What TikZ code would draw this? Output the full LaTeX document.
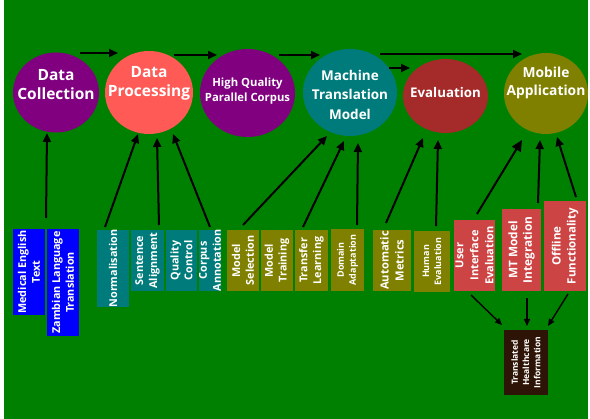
\documentclass[tikz,border=0pt]{standalone}
\usepackage{fontspec}
\setmainfont{Open Sans}
\usetikzlibrary{shapes.geometric,arrows.meta}
\definecolor{bggreen}{HTML}{008000}
\definecolor{cpurple}{HTML}{800080}
\definecolor{csalmon}{HTML}{FF5A55}
\definecolor{cteal}{HTML}{007B7B}
\definecolor{cbrown}{HTML}{A52A2A}
\definecolor{colive}{HTML}{808000}
\definecolor{cblue}{HTML}{0000FF}
\definecolor{cred}{HTML}{CC4444}
\definecolor{cdark}{HTML}{2E1406}
\tikzset{
  oval/.style={ellipse, inner sep=0pt, draw=none},
  otext/.style={text=white, font=\bfseries, align=center, inner sep=0pt},
  vbox/.style={rectangle, rotate=90, inner sep=0pt, text=white, align=center,
    font=\bfseries\fontsize{10.8}{13.8}\selectfont},
  arr/.style={-{Triangle[length=9pt,width=8pt]}, line width=2pt, black},
  sarr/.style={-{Triangle[length=7pt,width=6pt]}, line width=1.4pt, black}
}
\begin{document}
\begin{tikzpicture}[x=1pt,y=-1pt]
\useasboundingbox (0,0) rectangle (590,419);
\fill[white] (0,0) rectangle (590,419);
\fill[bggreen] (4,0) rectangle (588,419);

% ellipses
\node[oval, fill=cpurple, minimum width=86pt, minimum height=80pt] (dc) at (56,92.5) {};
\node[oval, fill=csalmon, minimum width=88pt, minimum height=83pt] (dp) at (149,92.5) {};
\node[oval, fill=cpurple, minimum width=95pt, minimum height=88pt] (hq) at (247.5,93) {};
\node[oval, fill=cteal, minimum width=94pt, minimum height=87pt] (mt) at (350,92.5) {};
\node[oval, fill=cbrown, minimum width=85pt, minimum height=74pt] (ev) at (445.5,96) {};
\node[oval, fill=colive, minimum width=84pt, minimum height=81pt] (ma) at (546,93.5) {};

\node[otext, font=\bfseries\fontsize{15.5}{19}\selectfont] (dct) at (56,85) {Data\\Collection};
\node[otext, font=\bfseries\fontsize{15.5}{19}\selectfont] (dpt) at (149,83.5) {Data\\Processing};
\node[otext, font=\bfseries\fontsize{11.3}{15}\selectfont] (hqt) at (247.5,91) {High Quality\\Parallel Corpus};
\node[otext, font=\bfseries\fontsize{13.5}{19.5}\selectfont] (mtt) at (350,94.5) {Machine\\Translation\\Model};
\node[otext, font=\bfseries\fontsize{13.3}{16}\selectfont] (evt) at (445.5,92.5) {Evaluation};
\node[otext, font=\bfseries\fontsize{13.8}{18}\selectfont] (mat) at (546,83) {Mobile\\Application};

% boxes (rotated: minimum width = vertical extent)
\node[vbox, fill=cblue, minimum width=86pt, minimum height=32pt] (med) at (29,272) {Medical English\\Text};
\node[vbox, fill=cblue, minimum width=107pt, minimum height=32pt] (zam) at (63,282.5) {Zambian Language\\Translation};
\node[vbox, fill=cteal, minimum width=77pt, minimum height=32pt] (nor) at (113,268.5) {Normalisation};
\node[vbox, fill=cteal, minimum width=61pt, minimum height=33pt] (sen) at (147.5,260.5) {Sentence\\Alignment};
\node[vbox, fill=cteal, minimum width=61pt, minimum height=31pt] (qua) at (181.5,260.5) {Quality\\Control};
\node[vbox, fill=cteal, minimum width=61pt, minimum height=22pt] (cor) at (210,260.5) {Corpus\\Annotation};
\node[vbox, fill=colive, minimum width=61pt, minimum height=32pt] (mse) at (243,260.5) {Model\\Selection};
\node[vbox, fill=colive, minimum width=61pt, minimum height=32pt] (mtr) at (277,260.5) {Model\\Training};
\node[vbox, fill=colive, minimum width=61pt, minimum height=33pt] (trl) at (311.5,260.5) {Transfer\\Learning};
\node[vbox, fill=colive, minimum width=62pt, minimum height=33pt, font=\bfseries\fontsize{9}{12}\selectfont] (dom) at (347.5,260) {Domain\\Adaptation};
\node[vbox, fill=colive, minimum width=61pt, minimum height=38pt, font=\bfseries\fontsize{11.2}{15}\selectfont] (aut) at (392,260.5) {Automatic\\Metrics};
\node[vbox, fill=colive, minimum width=61pt, minimum height=36pt, font=\bfseries\fontsize{9}{12}\selectfont] (hum) at (432,261.5) {Human\\Evaluation};
\node[vbox, fill=cred, minimum width=71pt, minimum height=41pt, font=\bfseries\fontsize{11}{15}\selectfont] (uie) at (474.5,255.5) {User\\Interface\\Evaluation};
\node[vbox, fill=cred, minimum width=82pt, minimum height=39pt, font=\bfseries\fontsize{11.8}{14.5}\selectfont] (mti) at (521.5,250) {MT Model\\Integration};
\node[vbox, fill=cred, minimum width=90pt, minimum height=42pt, font=\bfseries\fontsize{11.5}{15}\selectfont] (off) at (565,246) {Offline\\Functionality};
\node[vbox, fill=cdark, minimum width=65pt, minimum height=44pt, font=\bfseries\fontsize{8.5}{11.3}\selectfont] (thi) at (526,362.5) {Translated\\Healthcare\\Information};

% top flow arrows
\draw[arr] ([shift={(24,-39.5)}]dc.center) -- ([shift={(-31,-39.5)}]dp.center);
\draw[arr] ([shift={(25,-37.5)}]dp.center) -- ([shift={(-30.5,-38)}]hq.center);
\draw[arr] ([shift={(31.5,-38)}]hq.center) -- ([shift={(-30,-37.5)}]mt.center);
\draw[arr] ([shift={(30,-38.5)}]mt.center) -- ([shift={(-24,-39.5)}]ma.center);
\draw[arr] ([shift={(39,-24.5)}]mt.center) -- ([shift={(-35.5,-28)}]ev.center);

% boxes to ellipses
\draw[arr] ([shift={(17,-54)}]med.center) -- ([shift={(-9,40.5)}]dc.center);
\draw[arr] ([shift={(-8,-41.5)}]nor.center) -- ([shift={(-11,41.5)}]dp.center);
\draw[arr] ([shift={(11.5,-35.5)}]sen.center) -- ([shift={(8,45.5)}]dp.center);
\draw[arr] ([shift={(0,-33.5)}]cor.center) -- ([shift={(24,41.5)}]dp.center);
\draw[arr] ([shift={(0,-35.5)}]mse.center) -- ([shift={(-23,43.5)}]mt.center);
\draw[arr] ([shift={(-8.5,-33.5)}]trl.center) -- ([shift={(-6,48.5)}]mt.center);
\draw[arr] ([shift={(9.5,-35)}]dom.center) -- ([shift={(8,50.5)}]mt.center);
\draw[arr] ([shift={(-6,-37.5)}]aut.center) -- ([shift={(-22.5,42)}]ev.center);
\draw[arr] ([shift={(4,-35.5)}]hum.center) -- ([shift={(-7.5,44)}]ev.center);
\draw[arr, -{Triangle[length=11pt,width=10pt]}] ([shift={(2.5,-41.5)}]uie.center) -- ([shift={(-24,46.5)}]ma.center);
\draw[arr] ([shift={(16.5,-47)}]mti.center) -- ([shift={(-6,46.5)}]ma.center);
\draw[arr] ([shift={(11,-49)}]off.center) -- ([shift={(11,43.5)}]ma.center);

% to translated healthcare information
\draw[sarr] ([shift={(-3.5,39.5)}]uie.center) -- ([shift={(-24,-37.5)}]thi.center);
\draw[sarr] ([shift={(5.5,48)}]mti.center) -- ([shift={(1,-36.5)}]thi.center);
\draw[sarr] ([shift={(3,48)}]off.center) -- ([shift={(22,-36.5)}]thi.center);
\end{tikzpicture}
\end{document}
